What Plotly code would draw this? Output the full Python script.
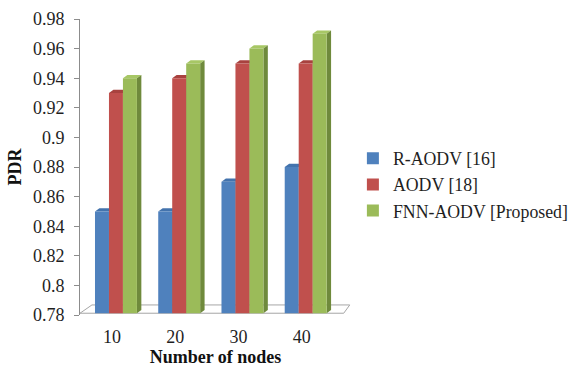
import plotly.graph_objects as go

# Packet delivery ratio per routing protocol and network size
nodes = ["10", "20", "30", "40"]
series_names = ["R-AODV [16]", "AODV [18]", "FNN-AODV [Proposed]"]
r_aodv = [0.85, 0.85, 0.87, 0.88]
aodv = [0.93, 0.94, 0.95, 0.95]
fnn_aodv = [0.94, 0.95, 0.96, 0.97]

front_colors = ["#4F81BD", "#C0504D", "#9BBB59"]
top_colors = ["#4373AD", "#A8423F", "#A7C765"]
side_colors = ["#38608F", "#8C3532", "#6F8A3C"]

FLOOR = 0.7812          # front edge of the floor plane
BAR_W = 0.221           # bar width in category units
OFFSETS = [-0.268, -0.047, 0.174]
DX, DY = 0.07, 0.0022   # depth of the pseudo-3D extrusion

fig = go.Figure()
xs = list(range(len(nodes)))
all_vals = [r_aodv, aodv, fnn_aodv]

shapes = []
# floor plane under the bars
shapes.append(dict(
    type="path", xref="x", yref="y", layer="below",
    path=f"M -0.505 {FLOOR} L -0.316 0.7868 L 3.76 0.7868 L 3.665 {FLOOR} Z",
    fillcolor="white", line=dict(color="#A6A6A6", width=1)))

for s, (name, vals) in enumerate(zip(series_names, all_vals)):
    fig.add_trace(go.Bar(
        x=xs, y=[v - FLOOR for v in vals], base=FLOOR,
        width=BAR_W, offset=OFFSETS[s], name=name,
        marker=dict(color=front_colors[s], line=dict(width=0)),
        customdata=vals, hovertemplate="%{customdata}<extra>" + name + "</extra>",
    ))
    for i, v in enumerate(vals):
        x0 = xs[i] + OFFSETS[s]
        x1 = x0 + BAR_W
        # top face
        shapes.append(dict(
            type="path", xref="x", yref="y", layer="below",
            path=f"M {x0} {v} L {x0+DX} {v+DY} L {x1+DX} {v+DY} L {x1} {v} Z",
            fillcolor=top_colors[s], line=dict(width=0)))
        # right side face
        shapes.append(dict(
            type="path", xref="x", yref="y", layer="below",
            path=f"M {x1} {FLOOR} L {x1} {v} L {x1+DX} {v+DY} L {x1+DX} {FLOOR+DY} Z",
            fillcolor=side_colors[s], line=dict(width=0)))

serif = "Liberation Serif, Times New Roman, serif"
fig.update_layout(
    width=570, height=367,
    margin=dict(l=80, r=219, t=19, b=52, autoexpand=False),
    paper_bgcolor="white", plot_bgcolor="white",
    barmode="overlay",
    shapes=shapes,
    font=dict(family=serif, size=18, color="#1F1F1F"),
    xaxis=dict(
        range=[-0.505, 3.78], tickmode="array", tickvals=xs, ticktext=nodes,
        showgrid=False, zeroline=False, showline=False, ticks="",
        ticklabelstandoff=9, automargin=False,
        title=dict(text="<b>Number of nodes</b>", standoff=3,
                   font=dict(family=serif, size=18, color="#111111")),
    ),
    yaxis=dict(
        range=[0.78, 0.98], dtick=0.02, tick0=0.78,
        showgrid=False, zeroline=False, automargin=False,
        showline=True, linecolor="#8C8C8C", linewidth=1,
        ticks="outside", ticklen=5, tickcolor="#8C8C8C",
        ticklabelstandoff=6,
        title=dict(text="<b>PDR</b>", standoff=6,
                   font=dict(family=serif, size=18, color="#111111")),
    ),
    legend=dict(
        x=1.007, xanchor="left", y=0.44, yanchor="middle",
        font=dict(family=serif, size=17.8, color="#1F1F1F"),
        tracegroupgap=5, itemwidth=30,
    ),
    showlegend=True,
)

fig.write_html("out.html")
